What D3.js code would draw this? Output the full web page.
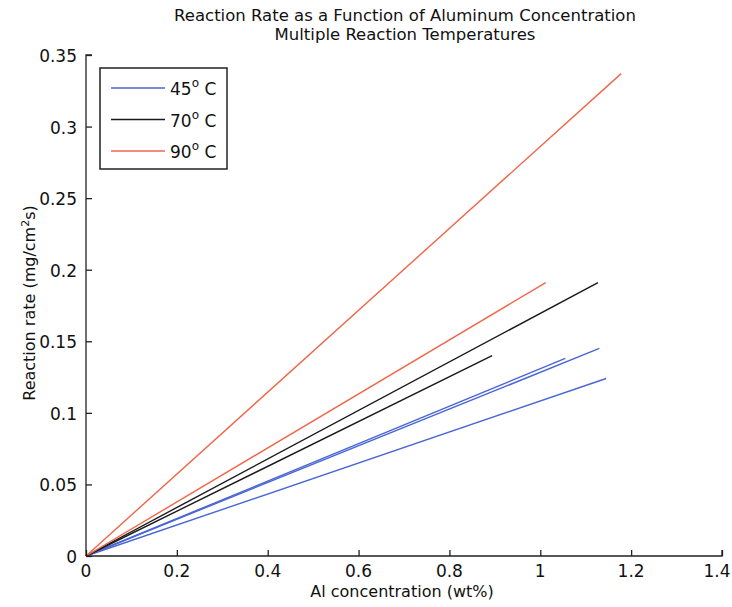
<!DOCTYPE html>
<html>
<head>
<meta charset="utf-8">
<script src="https://cdn.jsdelivr.net/npm/d3@7"></script>
<style>
  body { margin: 0; background: #fff; }
  text { font-family: "DejaVu Sans", Arial, sans-serif; fill: #111; }
</style>
</head>
<body>
<div id="chart"></div>
<script>
// temperatures in the legend
var temps = ["45", "70", "90"];

// each run is a straight line from the origin to its last point (wt%, mg/cm2s)
var runs45 = [
  [[0, 0], [1.130, 0.145]],
  [[0, 0], [1.055, 0.138]],
  [[0, 0], [1.145, 0.124]]
];
var runs70 = [
  [[0, 0], [1.127, 0.191]],
  [[0, 0], [0.894, 0.140]]
];
var runs90 = [
  [[0, 0], [1.178, 0.337]],
  [[0, 0], [1.012, 0.191]]
];

var xTicks = [0, 0.2, 0.4, 0.6, 0.8, 1, 1.2, 1.4];
var yTicks = [0, 0.05, 0.1, 0.15, 0.2, 0.25, 0.3, 0.35];

var W = 732, H = 607;
var colors = ["#4a66d4", "#1a1a1a", "#f0664a"];

var svg = d3.select("#chart").append("svg")
  .attr("width", W)
  .attr("height", H);

// Scales
var x = d3.scaleLinear().domain([0, 1.4]).range([86, 722]);
var y = d3.scaleLinear().domain([0, 0.35]).range([556, 55]);

var line = d3.line()
  .x(function(d) { return x(d[0]); })
  .y(function(d) { return y(d[1]); });

var groups = [runs45, runs70, runs90];
groups.forEach(function(runs, i) {
  svg.selectAll(".run" + i).data(runs).enter()
    .append("path")
    .attr("class", "run" + i)
    .attr("d", line)
    .attr("fill", "none")
    .attr("stroke", colors[i])
    .attr("stroke-width", 1.4);
});

// Axes (ticks pointing inward)
var xAxis = d3.axisTop(x).tickValues(xTicks).tickSize(6).tickFormat("");
var yAxis = d3.axisRight(y).tickValues(yTicks).tickSize(6).tickFormat("");

svg.append("g")
  .attr("transform", "translate(0," + y(0) + ")")
  .call(xAxis)
  .call(function(g) { g.select(".domain").attr("d", "M" + x(0) + ",0H" + x(1.4) + "V-6"); });

svg.append("g")
  .attr("transform", "translate(" + x(0) + ",0)")
  .call(yAxis)
  .call(function(g) { g.select(".domain").attr("d", "M6," + y(0.35) + "H0V" + y(0)); });

svg.selectAll(".domain, .tick line").attr("stroke", "#222").attr("stroke-width", 1.3);

// tick labels (last one kept inside the window)
svg.selectAll(".xlab").data(xTicks).enter()
  .append("text")
  .attr("x", function(d) { return Math.min(x(d), W - 15); })
  .attr("y", y(0) + 21)
  .attr("text-anchor", "middle")
  .style("font-size", "17px")
  .text(function(d) { return d3.format("")(d); });

svg.selectAll(".ylab").data(yTicks).enter()
  .append("text")
  .attr("x", x(0) - 9)
  .attr("y", function(d) { return y(d) + 7; })
  .attr("text-anchor", "end")
  .style("font-size", "17px")
  .text(function(d) { return d3.format("")(d); });

// titles
svg.append("text").attr("x", 405).attr("y", 21).attr("text-anchor", "middle")
  .style("font-size", "16.5px")
  .text("Reaction Rate as a Function of Aluminum Concentration");
svg.append("text").attr("x", 405).attr("y", 40).attr("text-anchor", "middle")
  .style("font-size", "16.5px")
  .text("Multiple Reaction Temperatures");

svg.append("text").attr("x", 402).attr("y", 597).attr("text-anchor", "middle")
  .style("font-size", "16px")
  .text("Al concentration (wt%)");

var yl = svg.append("text")
  .attr("transform", "translate(35,303) rotate(-90)")
  .attr("text-anchor", "middle")
  .style("font-size", "16px");
yl.append("tspan").text("Reaction rate (mg/cm");
yl.append("tspan").attr("dy", -6).style("font-size", "11px").text("2");
yl.append("tspan").attr("dy", 6).text("s)");

// legend
var legend = svg.append("g");
legend.append("rect")
  .attr("x", 100).attr("y", 68).attr("width", 127).attr("height", 101)
  .attr("fill", "#fff").attr("stroke", "#222").attr("stroke-width", 1.5);

temps.forEach(function(t, i) {
  var ly = 88 + i * 31.5;
  legend.append("line")
    .attr("x1", 111).attr("x2", 165).attr("y1", ly).attr("y2", ly)
    .attr("stroke", colors[i]).attr("stroke-width", 1.4);
  var lt = legend.append("text")
    .attr("x", 170).attr("y", ly + 7)
    .style("font-size", "17px");
  lt.append("tspan").text(t);
  lt.append("tspan").attr("dy", -8).style("font-size", "12px").text("o");
  lt.append("tspan").attr("dy", 8).text(" C");
});
</script>
</body>
</html>
